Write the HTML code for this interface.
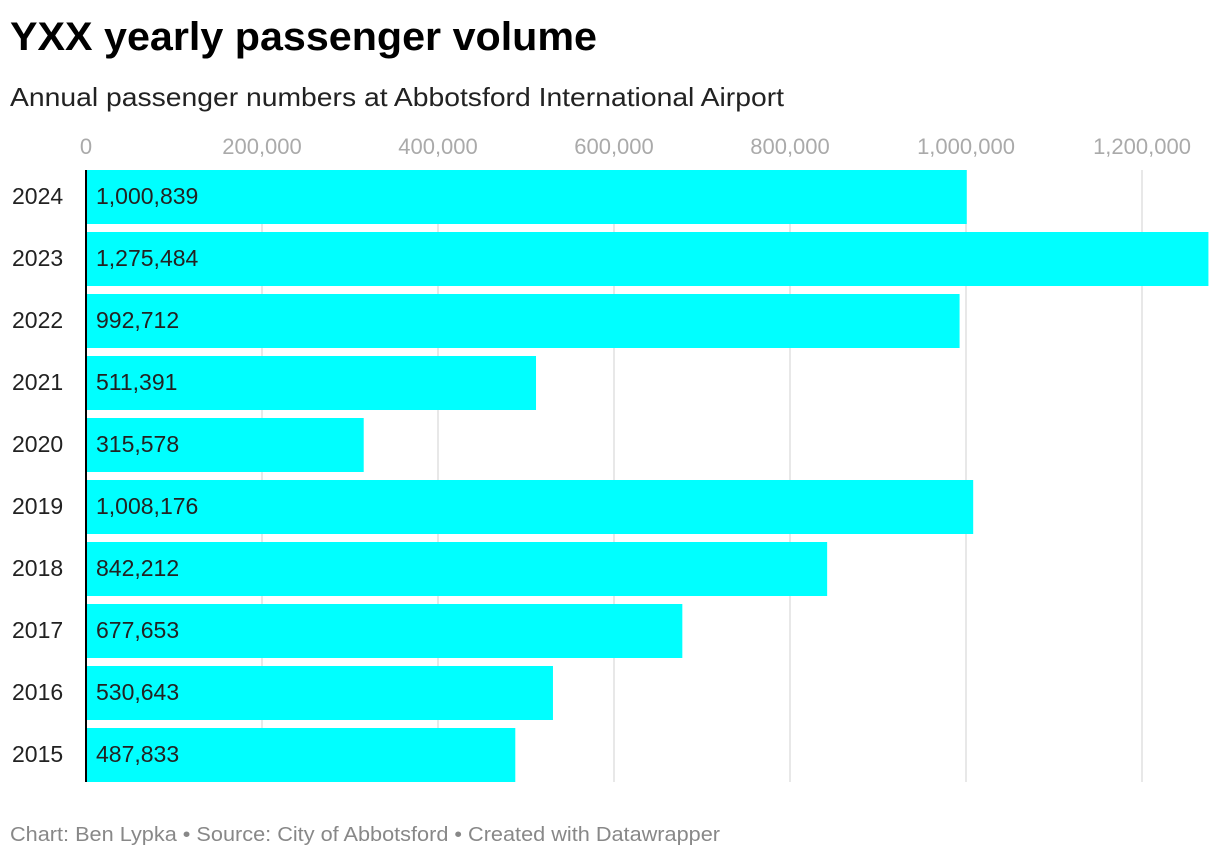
<!DOCTYPE html>
<html><head><meta charset="utf-8"><style>
body{margin:0;width:1220px;height:858px;background:#fff;font-family:"Liberation Sans",Arial,sans-serif;overflow:hidden}
</style></head><body>
<svg width="1220" height="858" xmlns="http://www.w3.org/2000/svg">
<text x="10" y="50" font-size="40" font-weight="bold" fill="#000" textLength="587" lengthAdjust="spacingAndGlyphs">YXX yearly passenger volume</text>
<text x="10" y="106" font-size="26" fill="#222" textLength="774" lengthAdjust="spacingAndGlyphs">Annual passenger numbers at Abbotsford International Airport</text>
<g id="grid"></g><g id="bars"></g>
<text x="10" y="841" font-size="20" fill="#888" textLength="710" lengthAdjust="spacingAndGlyphs">Chart: Ben Lypka • Source: City of Abbotsford • Created with Datawrapper</text>
</svg>
<script>
const years=["2024","2023","2022","2021","2020","2019","2018","2017","2016","2015"];
const passengers=[1000839,1275484,992712,511391,315578,1008176,842212,677653,530643,487833];
const ticks=[0,200000,400000,600000,800000,1000000,1200000];
const tickLabels=["0","200,000","400,000","600,000","800,000","1,000,000","1,200,000"];
const NS="http://www.w3.org/2000/svg";
const x0=86,scale=880/1000000,top0=170,step=62,bh=54;
const xs=v=>x0+v*scale;
const fmt=v=>v.toLocaleString("en-US");
const grid=document.getElementById("grid"),bars=document.getElementById("bars");
function mk(tag,attrs,parent){const e=document.createElementNS(NS,tag);for(const k in attrs)e.setAttribute(k,attrs[k]);parent.appendChild(e);return e;}
ticks.forEach((t,i)=>{
  if(t>0){const l=mk("line",{x1:xs(t),x2:xs(t),y1:top0,y2:top0+step*years.length-8,stroke:"#e0e0e0","stroke-width":1.5},grid);
  
  }
  const tx=mk("text",{x:xs(t),y:154,"font-size":22,fill:"#aaa","text-anchor":"middle"},grid);
  tx.textContent=tickLabels[i];
  
  
});
years.forEach((y,i)=>{
  const yt=top0+i*step;
  const r=mk("rect",{x:x0,y:yt,width:xs(passengers[i])-x0,height:bh,fill:"#00ffff"},bars);
  
  
  const yl=mk("text",{x:12,y:yt+bh/2+7,"font-size":23,fill:"#222"},bars);
  yl.textContent=y;
  
  
  const vl=mk("text",{x:96,y:yt+bh/2+7,"font-size":23,fill:"#222"},bars);
  vl.textContent=fmt(passengers[i]);
  
  
});
const ax=mk("line",{x1:x0,x2:x0,y1:top0,y2:top0+step*years.length-8,stroke:"#000","stroke-width":2},bars);


</script>
</body></html>
